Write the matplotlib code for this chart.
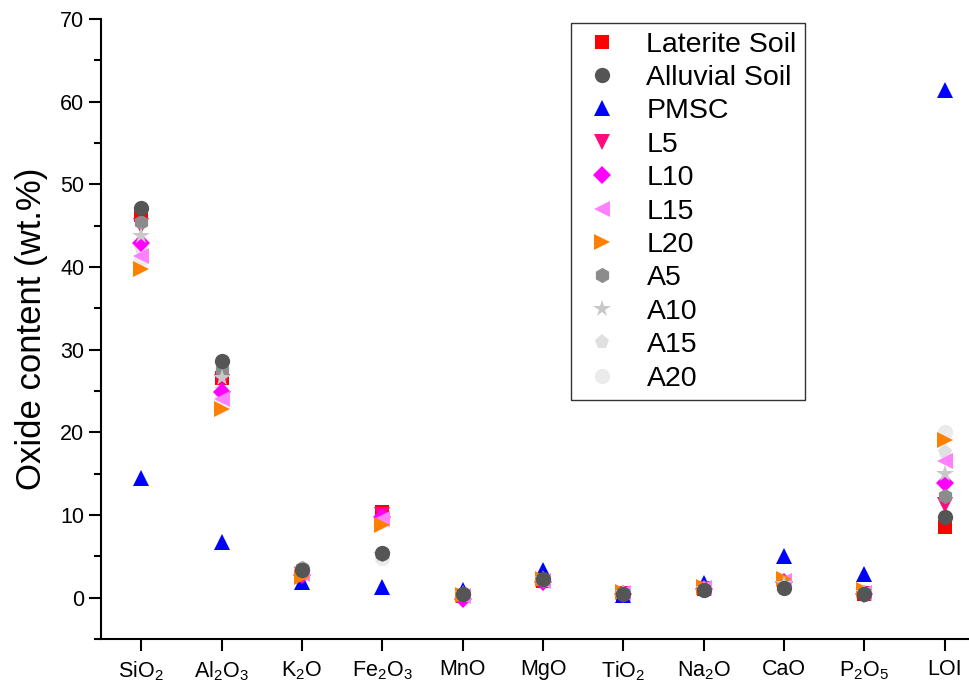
import matplotlib
matplotlib.use('Agg')
from matplotlib import pyplot as plt
from matplotlib.ticker import MultipleLocator

plt.rcParams['font.family'] = ['Liberation Sans', 'DejaVu Sans']
plt.rcParams['mathtext.default'] = 'regular'

oxides = ['SiO$_2$', 'Al$_2$O$_3$', 'K$_2$O', 'Fe$_2$O$_3$', 'MnO', 'MgO',
          'TiO$_2$', 'Na$_2$O', 'CaO', 'P$_2$O$_5$', 'LOI']

laterite = [46.3, 26.6, 3.0, 10.4, 0.2, 2.0, 0.5, 1.1, 1.6, 0.5, 8.6]
alluvial = [47.1, 28.6, 3.4, 5.4, 0.5, 2.2, 0.5, 0.9, 1.2, 0.5, 9.7]
pmsc = [14.5, 6.7, 1.9, 1.3, 0.9, 3.3, 0.3, 1.8, 5.0, 2.9, 61.4]
l5 = [45.0, 26.1, 2.7, 10.0, 0.0, 1.8, 0.5, 1.1, 1.7, 0.4, 11.2]
l10 = [42.9, 24.9, 2.8, 9.8, -0.1, 1.9, 0.5, 1.1, 1.9, 0.5, 13.9]
l15 = [41.3, 24.0, 2.9, 9.5, 0.2, 2.0, 0.6, 1.2, 2.0, 0.6, 16.5]
l20 = [39.8, 22.8, 2.5, 8.8, 0.3, 2.3, 0.7, 1.3, 2.3, 0.9, 19.1]
a5 = [45.5, 27.5, 3.6, 5.3, 0.5, 2.1, 0.6, 1.0, 1.4, 0.6, 12.3]
a10 = [43.7, 26.6, 3.5, 5.2, 0.4, 2.2, 0.6, 1.1, 1.6, 0.6, 14.9]
a15 = [42.3, 25.2, 3.4, 5.0, 0.4, 2.2, 0.6, 1.1, 1.7, 0.6, 17.6]
a20 = [41.0, 24.3, 3.3, 4.8, 0.4, 2.3, 0.6, 1.2, 1.8, 0.7, 20.1]

# label, values, marker, colour, size, zorder
series = [
    ('Laterite Soil', laterite, 's', '#ff0000', 10, 3),
    ('Alluvial Soil', alluvial, 'o', '#555555', 11, 4),
    ('PMSC', pmsc, '^', '#0000ff', 11, 3),
    ('L5', l5, 'v', '#ff0a7f', 11, 3),
    ('L10', l10, 'D', '#ff00ff', 9, 3),
    ('L15', l15, '<', '#ff80ff', 11, 3),
    ('L20', l20, '>', '#ff8000', 11, 3),
    ('A5', a5, 'h', '#8c8c8c', 11, 3),
    ('A10', a10, '*', '#c8c8c8', 13, 3),
    ('A15', a15, 'p', '#e0e0e0', 11, 2),
    ('A20', a20, 'o', '#ebebeb', 11, 2),
]

x = list(range(1, len(oxides) + 1))

fig = plt.figure(figsize=(9.7, 6.9), dpi=100)
ax = fig.add_axes([0.1041, 0.0739, 0.9114, 0.8986])

handles = []
for label, vals, mk, col, ms, z in series:
    h, = ax.plot(x, vals, linestyle='none', marker=mk, color=col,
                 markersize=ms, markeredgewidth=0, label=label, zorder=z)
    handles.append(h)

ax.set_xlim(0.5, 11.5)
ax.set_ylim(-5, 70)
ax.set_xticks(x)
ax.set_xticklabels(oxides, fontsize=15.5)
ax.yaxis.set_major_locator(MultipleLocator(10))
ax.yaxis.set_minor_locator(MultipleLocator(5))
ax.tick_params(axis='y', labelsize=15.5)
ax.tick_params(which='major', direction='out', length=8.5, width=1.5)
ax.tick_params(which='minor', direction='out', length=5, width=1.5)
ax.tick_params(axis='x', which='major', pad=6)
ax.tick_params(axis='x', which='minor', bottom=False)
for side in ['top', 'right']:
    ax.spines[side].set_visible(False)
for side in ['left', 'bottom']:
    ax.spines[side].set_linewidth(1.5)
ax.set_ylabel('Oxide content (wt.%)', fontsize=25, labelpad=9)

leg = fig.legend(handles=handles, loc='upper left',
                 bbox_to_anchor=(571 / 970, 1 - 23 / 690),
                 fontsize=20.5, frameon=True, fancybox=False,
                 labelspacing=0.26, handlelength=1.6, handletextpad=0.75,
                 borderpad=0.3, borderaxespad=0)
leg.get_frame().set_edgecolor('black')
leg.get_frame().set_linewidth(1.0)

fig.savefig('out.png', dpi=100)
